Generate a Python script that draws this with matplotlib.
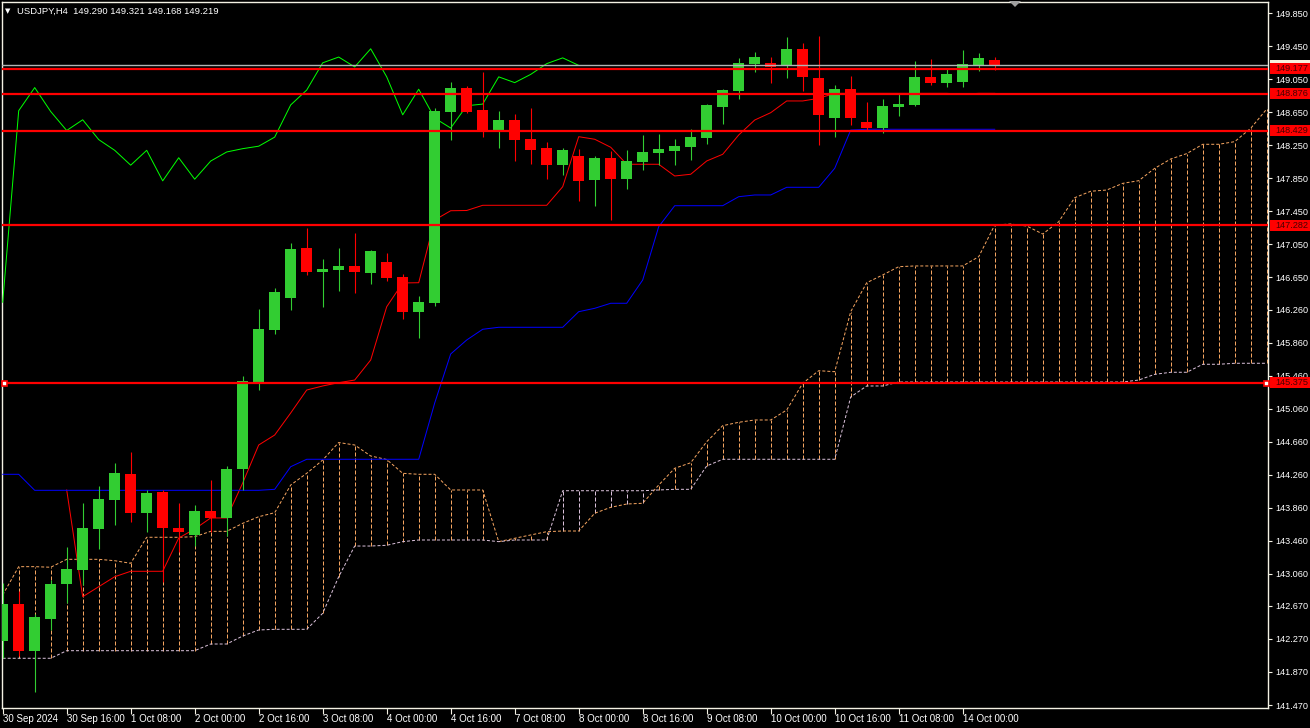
import numpy as np
import matplotlib
matplotlib.use('Agg')
import matplotlib.pyplot as plt
from matplotlib.patches import Rectangle, Polygon
from matplotlib.transforms import blended_transform_factory, IdentityTransform

plt.rcParams['font.family'] = ['Liberation Sans', 'DejaVu Sans']

# USDJPY H4, one candle per 4 hours, 30 Sep 2024 00:00 .. 14 Oct 2024 08:00
opens = [142.25, 142.69, 142.12, 142.51, 142.94, 143.11, 143.60, 143.95, 144.27, 143.80,
         144.05, 143.62, 143.53, 143.82, 143.73, 144.33, 145.37, 146.01, 146.40, 147.01,
         146.72, 146.74, 146.79, 146.70, 146.84, 146.66, 146.23, 146.34, 148.66, 148.95,
         148.68, 148.43, 148.56, 148.33, 148.22, 148.01, 148.12, 147.83, 148.10, 147.84,
         148.05, 148.16, 148.18, 148.23, 148.34, 148.71, 148.91, 149.24, 149.25, 149.21,
         149.42, 149.07, 148.58, 148.93, 148.53, 148.46, 148.71, 148.74, 149.08, 149.01,
         149.02, 149.22, 149.290]
highs = [142.95, 142.85, 142.57, 142.99, 143.38, 143.92, 144.12, 144.40, 144.53, 144.08,
         144.08, 143.92, 143.89, 144.20, 144.36, 145.46, 146.27, 146.52, 147.07, 147.25,
         146.87, 147.01, 147.19, 146.98, 146.95, 146.69, 146.43, 148.70, 149.02, 148.97,
         149.14, 148.67, 148.63, 148.70, 148.29, 148.22, 148.21, 148.12, 148.18, 148.19,
         148.38, 148.39, 148.33, 148.45, 148.75, 148.93, 149.31, 149.38, 149.32, 149.56,
         149.49, 149.57, 148.98, 149.09, 148.78, 148.81, 148.87, 149.27, 149.30, 149.19,
         149.41, 149.37, 149.321]
lows = [142.04, 142.06, 141.63, 142.38, 142.71, 142.92, 143.36, 143.65, 143.69, 143.56,
        142.96, 143.32, 143.40, 143.56, 143.52, 144.07, 145.29, 145.96, 146.26, 146.68,
        146.29, 146.49, 146.46, 146.57, 146.61, 146.15, 145.92, 146.30, 148.31, 148.64,
        148.35, 148.22, 148.06, 148.02, 147.84, 147.89, 147.58, 147.52, 147.35, 147.72,
        147.95, 148.01, 148.01, 148.07, 148.27, 148.51, 148.81, 149.14, 149.01, 149.07,
        148.91, 148.25, 148.35, 148.50, 148.42, 148.40, 148.61, 148.73, 148.98, 148.96,
        148.96, 149.15, 149.168]
closes = [142.69, 142.12, 142.54, 142.94, 143.12, 143.62, 143.97, 144.28, 143.80, 144.04,
          143.62, 143.56, 143.82, 143.73, 144.33, 145.39, 146.03, 146.47, 146.99, 146.72,
          146.75, 146.79, 146.72, 146.97, 146.64, 146.23, 146.35, 148.67, 148.95, 148.66,
          148.43, 148.56, 148.32, 148.19, 148.01, 148.19, 147.82, 148.10, 147.84, 148.06,
          148.17, 148.21, 148.24, 148.35, 148.74, 148.92, 149.25, 149.32, 149.20, 149.42,
          149.08, 148.62, 148.93, 148.58, 148.46, 148.73, 148.75, 149.08, 149.01, 149.11,
          149.24, 149.31, 149.219]

# Ichimoku lines
tenkan_start = 4
tenkan = [144.075, 142.782, 142.903, 143.024, 143.090, 143.090, 143.090, 143.493, 143.602, 143.736,
          143.736, 144.160, 144.620, 144.741, 145.008, 145.286, 145.335, 145.375, 145.407, 145.650,
          146.295, 146.583, 146.586, 147.346, 147.458, 147.461, 147.524, 147.524, 147.524, 147.524,
          147.524, 147.749, 148.355, 148.324, 148.227, 148.021, 148.021, 148.021, 147.879, 147.900,
          148.061, 148.142, 148.376, 148.557, 148.646, 148.788, 148.788, 148.820, 148.880, 148.880,
          148.880, 148.880, 148.880, 148.880, 148.880, 148.880, 148.870, 148.880, 148.880]
kijun = [144.265, 144.265, 144.071, 144.071, 144.071, 144.071, 144.071, 144.071, 144.071, 144.071,
         144.071, 144.071, 144.071, 144.071, 144.071, 144.071, 144.071, 144.083, 144.357, 144.447,
         144.447, 144.447, 144.447, 144.447, 144.447, 144.447, 144.447, 145.129, 145.723, 145.892,
         146.022, 146.046, 146.046, 146.046, 146.046, 146.046, 146.235, 146.276, 146.337, 146.337,
         146.619, 147.265, 147.519, 147.519, 147.519, 147.519, 147.628, 147.649, 147.649, 147.742,
         147.742, 147.742, 147.972, 148.436, 148.445, 148.445, 148.445, 148.445, 148.445, 148.445,
         148.445, 148.445, 148.445]
span_a = [142.803, 143.146, 143.146, 143.139, 143.235, 143.235, 143.235, 143.218, 143.187, 143.502,
          143.502, 143.502, 143.509, 143.574, 143.574, 143.671, 143.751, 143.800, 144.135, 144.277,
          144.438, 144.650, 144.620, 144.487, 144.444, 144.277, 144.265, 144.265, 144.075, 144.075,
          144.075, 143.449, 143.490, 143.530, 143.570, 143.578, 143.578, 143.793, 143.865, 143.905,
          143.914, 144.135, 144.338, 144.405, 144.660, 144.854, 144.895, 144.923, 144.923, 145.044,
          145.368, 145.520, 145.508, 146.235, 146.586, 146.680, 146.780, 146.789, 146.789, 146.789,
          146.789, 146.901, 147.285, 147.297, 147.273, 147.176, 147.325, 147.616, 147.694, 147.709,
          147.790, 147.822, 147.972, 148.085, 148.150, 148.263, 148.263, 148.295, 148.457, 148.690]
span_b = [142.036, 142.036, 142.036, 142.036, 142.128, 142.128, 142.128, 142.128, 142.128, 142.128,
          142.128, 142.128, 142.128, 142.209, 142.209, 142.306, 142.379, 142.387, 142.387, 142.387,
          142.581, 143.024, 143.396, 143.396, 143.405, 143.449, 143.469, 143.469, 143.469, 143.469,
          143.469, 143.449, 143.469, 143.469, 143.469, 144.066, 144.066, 144.066, 144.066, 144.066,
          144.066, 144.075, 144.083, 144.083, 144.366, 144.447, 144.447, 144.447, 144.447, 144.447,
          144.447, 144.447, 144.447, 145.202, 145.335, 145.335, 145.383, 145.383, 145.383, 145.383,
          145.383, 145.383, 145.383, 145.383, 145.383, 145.383, 145.383, 145.383, 145.383, 145.383,
          145.383, 145.407, 145.476, 145.501, 145.501, 145.598, 145.598, 145.610, 145.610, 145.610]
chikou_shift = 26

levels = [149.177, 148.876, 148.429, 147.282, 145.375]
bid = 149.219

time_labels = ['30 Sep 2024', '30 Sep 16:00', '1 Oct 08:00', '2 Oct 00:00', '2 Oct 16:00',
               '3 Oct 08:00', '4 Oct 00:00', '4 Oct 16:00', '7 Oct 08:00', '8 Oct 00:00',
               '8 Oct 16:00', '9 Oct 08:00', '10 Oct 00:00', '10 Oct 16:00', '11 Oct 08:00',
               '14 Oct 00:00']
price_labels = ['149.850', '149.450', '149.050', '148.650', '148.250', '147.850', '147.450',
                '147.050', '146.650', '146.260', '145.860', '145.460', '145.060', '144.660',
                '144.260', '143.860', '143.460', '143.060', '142.670', '142.270', '141.870',
                '141.470']
header = 'USDJPY,H4  149.290 149.321 149.168 149.219'

# colours (MT4 defaults)
BG = 'black'
FG = '#f4f1e4'
BULL = '#32cd32'
BEAR = '#ff0000'
SANDY = '#f4a460'
THISTLE = '#d8bfd8'
FS = 6.6

W, H = 1310, 728
fig = plt.figure(figsize=(W / 100, H / 100), dpi=100, facecolor=BG)
x0, x1, y0, y1 = 1.7, 1268, 1.7, 708
ax = fig.add_axes([x0 / W, 1 - y1 / H, (x1 - x0) / W, (y1 - y0) / H], facecolor=BG)
ax.set_xlim(-0.0625, 79.08)
ax.set_ylim(141.4337, 149.9905)

px = 0.72  # one pixel in points

# cloud histogram
for i, (a, b) in enumerate(zip(span_a, span_b)):
    if abs(a - b) < 0.02:
        continue
    col = SANDY if a >= b else THISTLE
    ax.vlines(i, min(a, b), max(a, b), colors=col, lw=px, linestyles=(0, (4, 2)), zorder=1)
idx_span = np.arange(len(span_a))
ax.plot(idx_span, span_a, color=SANDY, lw=px, ls=(0, (3, 2)), zorder=2)
ax.plot(idx_span, span_b, color=THISTLE, lw=px, ls=(0, (3, 2)), zorder=2)

# tenkan, kijun, chikou
ax.plot(np.arange(tenkan_start, tenkan_start + len(tenkan)), tenkan, color='#ff0000', lw=px, zorder=3)
ax.plot(np.arange(len(kijun)), kijun, color='#0000ff', lw=px, zorder=3)
chikou = closes[chikou_shift:]
ax.plot(np.arange(len(chikou)), chikou, color='#00ff00', lw=px, zorder=3)

# candles
bw = 11 / 16
for i, (o, h, l, c) in enumerate(zip(opens, highs, lows, closes)):
    col = BULL if c >= o else BEAR
    ax.vlines(i, l, h, colors=col, lw=0.8, zorder=4)
    lo, hi = min(o, c), max(o, c)
    hgt = max(hi - lo, 0.03)
    ax.add_patch(Rectangle((i - bw / 2, lo), bw, hgt, facecolor=col, edgecolor='none', zorder=4))

# bid line
ax.axhline(bid, color='#b4b4b4', lw=1.0, zorder=5)

# horizontal levels
for lv in levels:
    ax.axhline(lv, color='#ff0000', lw=1.6, zorder=6)
ax.plot([0.08, 78.95], [levels[-1]] * 2, ls='none', marker='s', ms=3.6, mfc='white',
        mec='#ff0000', mew=1.2, zorder=7, clip_on=False)

# price axis
ax.yaxis.tick_right()
ax.set_yticks([float(s) for s in price_labels])
ax.set_yticklabels(price_labels)
ax.tick_params(axis='y', colors=FG, labelcolor='white', length=3, width=0.8, pad=2.5, labelsize=FS)

# price boxes on the axis
tb = blended_transform_factory(fig.transFigure, ax.transData)
box_h = 11 * 0.012115
ax.add_patch(Rectangle((1270 / W, bid - box_h / 2), 40 / W, box_h, transform=tb,
                       facecolor='#f7f2dc', edgecolor='none', zorder=9, clip_on=False))
for lv in levels:
    ax.add_patch(Rectangle((1270 / W, lv - box_h / 2), 40 / W, box_h, transform=tb,
                           facecolor='#ff0000', edgecolor='none', zorder=10, clip_on=False))
    ax.text(1275 / W, lv, '%.3f' % lv, transform=tb, color='#4a0000', fontsize=FS,
            va='center', ha='left', zorder=11, clip_on=False)

# time axis
ax.set_xticks(np.arange(0, 4 * len(time_labels), 4))
ax.set_xticklabels([])
ax.tick_params(axis='x', colors=FG, length=4, width=0.8)
for k, lbl in enumerate(time_labels):
    ax.annotate(lbl, xy=(4 * k, 0), xycoords=('data', 'axes fraction'), xytext=(0.5, -4),
                textcoords='offset points', ha='left', va='top', color='white', fontsize=FS + 0.4,
                annotation_clip=False)

for sp in ax.spines.values():
    sp.set_color(FG)
    sp.set_linewidth(1.0)

# header
fig.text(8 / W, 1 - 11 / H, '\u25bc', color='white', fontsize=5, ha='center', va='center',
         family='DejaVu Sans')
fig.text(17 / W, 1 - 11 / H, header, color='white', fontsize=FS + 0.2, ha='left', va='center')

# chart shift marker
fig.add_artist(Polygon([(1009, H - 1), (1021, H - 1), (1015, H - 7)], closed=True,
                       transform=IdentityTransform(), facecolor='#a0a0a0', edgecolor='none'))

fig.savefig('out.png', dpi=100, facecolor=BG)
